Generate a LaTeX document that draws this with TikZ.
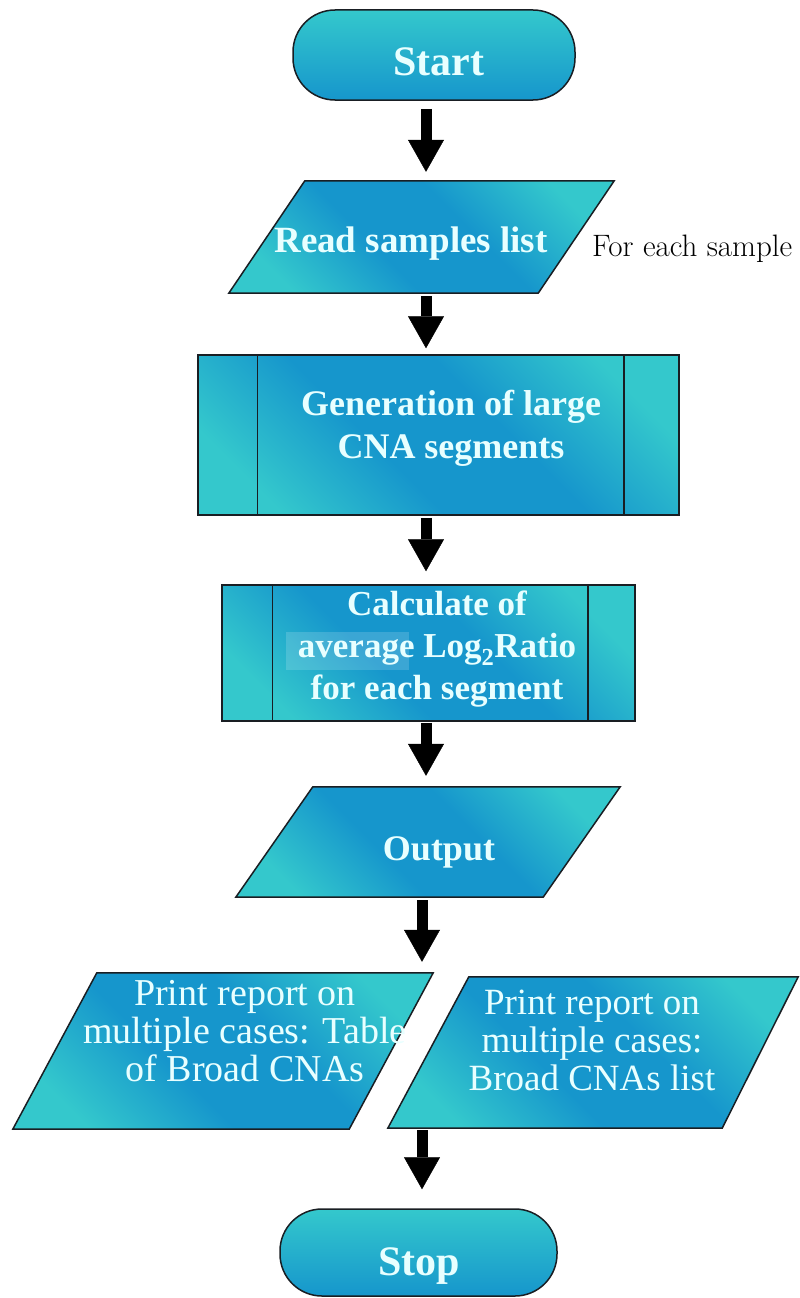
\documentclass[tikz,border=0pt]{standalone}
\usepackage{fontspec}
\newfontfamily\boxfont{Liberation Serif}
\usetikzlibrary{arrows.meta,calc}

\definecolor{flowteal}{RGB}{52,200,204}
\definecolor{flowblue}{RGB}{22,150,204}
\definecolor{flowtext}{RGB}{232,255,255}
\definecolor{flowedge}{RGB}{25,30,35}

% broad blue band between teal corners, turned diagonally below
\pgfdeclareverticalshading{flowband}{100bp}{%
  color(0bp)=(flowteal); color(24bp)=(flowteal); color(42bp)=(flowblue);
  color(58bp)=(flowblue); color(76bp)=(flowteal); color(100bp)=(flowteal)}

\begin{document}
\begin{tikzpicture}[x=1pt,y=-1pt,
  terminal/.style={draw=flowedge, line width=1.5pt, rounded corners=42pt,
    top color=flowteal, bottom color=flowblue, inner sep=0pt},
  diagshade/.style={shading=flowband, shading angle=-45},
  procbox/.style={draw=flowedge, line width=1.5pt, diagshade, inner sep=0pt},
  ioframe/.style={inner sep=0pt},
  iofill/.style={draw=flowedge, line width=1.5pt, line join=miter, diagshade},
  subline/.style={draw=flowedge, line width=1.5pt},
  boldtext/.style={text=flowtext, align=center, inner sep=0pt},
  flowarrow/.style={line width=11pt, black,
    -{Triangle[width=36pt,length=32pt,line width=0.4pt]}},
]
\useasboundingbox (0,0) rectangle (800,1298);

% reference x positions of the vertical arrows
\coordinate (spine) at (426,0);
\coordinate (spinelow) at (422,0);

% ---- shapes ----
\node[terminal, minimum width=282pt, minimum height=90pt] (start) at (434,55) {};

\node[ioframe, minimum width=385pt, minimum height=112pt] (read) at (421.5,237) {};
\path[iofill] (read.south west) -- ($(read.north west)+(76,0)$) -- (read.north east)
  -- ($(read.south east)-(76,0)$) -- cycle;

\node[procbox, minimum width=481pt, minimum height=160pt] (gen) at (438.5,435) {};
\draw[subline] ($(gen.north west)+(60,0)$) -- ($(gen.south west)+(60,0)$);
\draw[subline] ($(gen.north east)-(56,0)$) -- ($(gen.south east)-(56,0)$);

\node[procbox, minimum width=413pt, minimum height=136pt] (calc) at (428.5,653) {};
\draw[subline] ($(calc.north west)+(51,0)$) -- ($(calc.south west)+(51,0)$);
\draw[subline] ($(calc.north east)-(48,0)$) -- ($(calc.south east)-(48,0)$);
\node[fill=white, fill opacity=0.16, inner sep=0pt,
  minimum width=123pt, minimum height=38pt] (avghl) at (347.5,651) {};

\node[ioframe, minimum width=384pt, minimum height=110pt] (output) at (428,842) {};
\path[iofill] (output.south west) -- ($(output.north west)+(77,0)$) -- (output.north east)
  -- ($(output.south east)-(77,0)$) -- cycle;

\node[ioframe, minimum width=420pt, minimum height=156pt] (tablerep) at (223,1051) {};
\path[iofill] (tablerep.south west) -- ($(tablerep.north west)+(84,0)$) -- (tablerep.north east)
  -- ($(tablerep.south east)-(84,0)$) -- cycle;

\node[ioframe, minimum width=410pt, minimum height=151pt] (listrep) at (593,1052.5) {};
\path[iofill] (listrep.south west) -- ($(listrep.north west)+(81,0)$) -- (listrep.north east)
  -- ($(listrep.south east)-(76,0)$) -- cycle;

\node[terminal, minimum width=277pt, minimum height=87pt] (stop) at (418.5,1252.5) {};

% ---- texts ----
\node[boldtext, anchor=base, font=\boxfont\bfseries\fontsize{42}{48}\selectfont]
  (starttxt) at (439,75) {Start};
\node[boldtext, anchor=base, font=\boxfont\bfseries\fontsize{37}{44}\selectfont]
  (readtxt) at (411,252) {Read samples list};
\node[boldtext, font=\boxfont\bfseries\fontsize{36}{43}\selectfont]
  (gentxt) at (451,428) {Generation of large\\CNA segments};
\node[boldtext, font=\boxfont\bfseries\fontsize{35}{42}\selectfont]
  (calctxt) at (437,649) {Calculate of\\average Log\textsubscript{2}Ratio\\for each segment};
\node[boldtext, anchor=base, font=\boxfont\bfseries\fontsize{36}{43}\selectfont]
  (outtxt) at (439,860) {Output};
\node[boldtext, font=\boxfont\fontsize{38}{38}\selectfont]
  (tablerep txt) at (245,1031) {Print report on\\multiple cases: Table\\of Broad CNAs};
\node[boldtext, font=\boxfont\fontsize{37}{38}\selectfont]
  (listtxt) at (592,1040) {Print report on\\multiple cases:\\Broad CNAs list};
\node[boldtext, anchor=base, font=\boxfont\bfseries\fontsize{42}{48}\selectfont]
  (stoptxt) at (419,1275) {Stop};
\node[anchor=base west, inner sep=0pt, font=\fontsize{31}{36}\selectfont]
  (loopnote) at (592,256) {For each sample};

% ---- connectors ----
\draw[flowarrow, shorten <=8pt, shorten >=9pt] (start.south -| spine) -- (read.north -| spine);
\draw[flowarrow, shorten <=3pt, shorten >=6pt] (read.south -| spine) -- (gen.north -| spine);
\draw[flowarrow, shorten <=2pt, shorten >=13pt] (gen.south -| spine) -- (calc.north -| spine);
\draw[flowarrow, shorten <=1pt, shorten >=11pt] (calc.south -| spine) -- (output.north -| spine);
\draw[flowarrow, shorten <=3pt, shorten >=11pt] (output.south -| spinelow) -- (tablerep.north -| spinelow);
\draw[flowarrow, shorten <=2pt, shorten >=19pt] (listrep.south -| spinelow) -- (stop.north -| spinelow);
\end{tikzpicture}
\end{document}
